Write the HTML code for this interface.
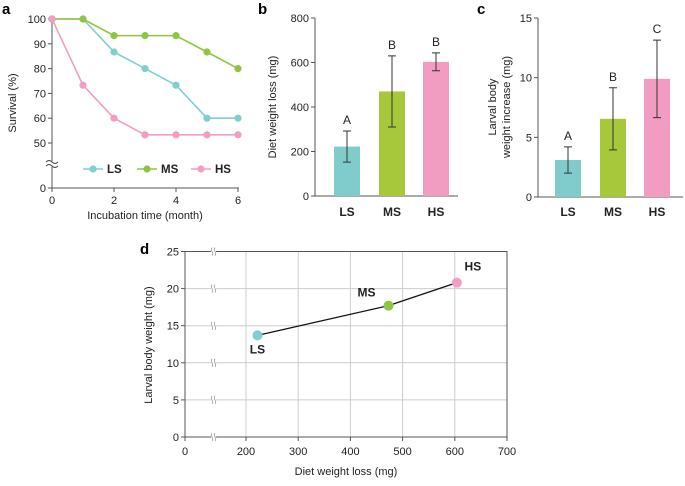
<!DOCTYPE html>
<html><head><meta charset="utf-8"><style>
body{margin:0;background:#fff;}
svg{font-family:"Liberation Sans",Arial,sans-serif;}
</style></head><body>
<svg id="s" width="685" height="481" viewBox="0 0 685 481" xmlns="http://www.w3.org/2000/svg">
<g id="root"></g>
</svg>
<script>
// Panel a data
const months=[0,1,2,3,4,5,6];
const survLS=[100,100,86.7,80,73.3,60,60];
const survMS=[100,100,93.3,93.3,93.3,86.7,80];
const survHS=[100,73.3,60,53.3,53.3,53.3,53.3];
const aYTicks=[50,60,70,80,90,100];
const aXTicks=[0,2,4,6];
// Panel b data
const groups=["LS","MS","HS"];
const dietLoss=[222,470,603];
const dietErr=[70,160,40];
const dietLetters=["A","B","B"];
const bTicks=[0,200,400,600,800];
// Panel c data
const larvalInc=[3.1,6.55,9.9];
const larvalErr=[1.1,2.6,3.25];
const larvalLetters=["A","B","C"];
const cTicks=[0,5,10,15];
// Panel d data
const dX=[222,473,604];
const dY=[13.7,17.7,20.8];
const dXTicks=[0,200,300,400,500,600,700];
const dYTicks=[0,5,10,15,20,25];

const lineCol={LS:"#7fcfcf",MS:"#8dc63f",HS:"#f29ec2"};
const barCol={LS:"#80cccc",MS:"#a6c83a",HS:"#f29cc2"};
const NS="http://www.w3.org/2000/svg";
const root=document.getElementById("root");
function el(tag,attrs,parent,text){const e=document.createElementNS(NS,tag);for(const k in attrs)e.setAttribute(k,attrs[k]);if(text!==undefined)e.textContent=text;(parent||root).appendChild(e);return e;}

// ---------- Panel a ----------
const ga=el("g",{});


const ax=v=>52+v*31;
const ay=v=>v===0?188:143-(v-50)*2.48;
let t=el("text",{x:2,y:14,"font-size":15,"font-weight":"bold"},ga,"a");

el("line",{x1:52,y1:18,x2:52,y2:161,stroke:"#555"},ga);
el("line",{x1:52,y1:167,x2:52,y2:189,stroke:"#555"},ga);
el("path",{d:"M46,162 q3,-3 6,0 t6,0 M46,166 q3,-3 6,0 t6,0",stroke:"#444",fill:"none","stroke-width":1},ga);
el("line",{x1:52,y1:188,x2:239,y2:188,stroke:"#555"},ga);
[...aYTicks,0].forEach(v=>{el("line",{x1:48,y1:ay(v),x2:52,y2:ay(v),stroke:"#555"},ga);
 const tt=el("text",{x:46,y:ay(v)+4,"font-size":11,"text-anchor":"end",fill:"#222"},ga,v);
 });
aXTicks.forEach(v=>{el("line",{x1:ax(v),y1:188,x2:ax(v),y2:192,stroke:"#555"},ga);
 const tt=el("text",{x:ax(v),y:204,"font-size":11,"text-anchor":"middle",fill:"#222"},ga,v);
 });
t=el("text",{x:145,y:219,"font-size":11,"text-anchor":"middle",fill:"#222"},ga,"Incubation time (month)");

t=el("text",{x:16,y:103,"font-size":11,"text-anchor":"middle",fill:"#222",transform:"rotate(-90 16 103)"},ga,"Survival (%)");

[["LS",survLS],["MS",survMS],["HS",survHS]].forEach(([n,arr])=>{
 const pts=months.map((m,i)=>ax(m)+","+ay(arr[i])).join(" ");
 const pl=el("polyline",{points:pts,fill:"none",stroke:lineCol[n],"stroke-width":1.6},ga);
 
 months.forEach((m,i)=>{const c=el("circle",{cx:ax(m),cy:ay(arr[i]),r:3.6,fill:lineCol[n]},ga);
  });
});
[["LS",83],["MS",137],["HS",191]].forEach(([n,x])=>{
 const lg=el("g",{},ga);
 
 el("line",{x1:x,y1:169,x2:x+20,y2:169,stroke:lineCol[n],"stroke-width":1.6},lg);
 el("circle",{cx:x+10,cy:169,r:3.6,fill:lineCol[n]},lg);
 el("text",{x:x+24,y:173,"font-size":11.5,"font-weight":"bold",fill:"#222"},lg,n);
});

// ---------- bar panels ----------
function barPanel(name,label,lx,x0,x1,y0,y1,max,ticks,vals,errs,letters,centers,titleLines){
 const g=el("g",{});
 
 const y=v=>y0-(v/max)*(y0-y1);
 let tt=el("text",{x:lx,y:14,"font-size":15,"font-weight":"bold"},g,label);
 
 el("line",{x1:x0,y1:y1,x2:x0,y2:y0,stroke:"#555"},g);
 el("line",{x1:x0,y1:y0,x2:x1,y2:y0,stroke:"#555"},g);
 ticks.forEach(v=>{el("line",{x1:x0-4,y1:y(v),x2:x0,y2:y(v),stroke:"#555"},g);
  const k=el("text",{x:x0-6,y:y(v)+4,"font-size":11,"text-anchor":"end",fill:"#222"},g,v);
  });
 groups.forEach((gr,i)=>{const c=centers[i];
  const r=el("rect",{x:c-13,y:y(vals[i]),width:26,height:y0-y(vals[i]),fill:barCol[gr]},g);
  
  const hi=y(vals[i]+errs[i]),lo=y(vals[i]-errs[i]);
  const eb=el("path",{d:`M${c},${hi}V${lo}M${c-4},${hi}H${c+4}M${c-4},${lo}H${c+4}`,stroke:"#333",fill:"none"},g);
  
  const lt=el("text",{x:c,y:hi-7,"font-size":12,"text-anchor":"middle",fill:"#222"},g,letters[i]);
  
  const xl=el("text",{x:c,y:216,"font-size":12,"font-weight":"bold","text-anchor":"middle",fill:"#222"},g,gr);
  
 });
 titleLines.forEach(([txt,xx])=>{const k=el("text",{x:xx,y:107,"font-size":11,"text-anchor":"middle",fill:"#222",transform:`rotate(-90 ${xx} 107)`},g,txt);
  });
}
barPanel("panel-b","b",258,315,458,196,18,800,bTicks,dietLoss,dietErr,dietLetters,[347,392,436],[["Diet weight loss (mg)",276]]);
barPanel("panel-c","c",477,538,683,197,18,15,cTicks,larvalInc,larvalErr,larvalLetters,[568,613,657],[["Larval body",496],["weight  increase (mg)",510]]);

// ---------- Panel d ----------
const gd=el("g",{});

const dx=v=>v<=200?185+v/200*61:246+(v-200)*0.522;
const dy=v=>437-v*7.42;
t=el("text",{x:140,y:254,"font-size":15,"font-weight":"bold"},gd,"d");

dXTicks.slice(1).forEach(v=>el("line",{x1:dx(v),y1:dy(25),x2:dx(v),y2:dy(0),stroke:"#ccc"},gd));
dYTicks.slice(1).forEach(v=>el("line",{x1:185,y1:dy(v),x2:dx(700),y2:dy(v),stroke:"#ccc"},gd));
el("rect",{x:185,y:dy(25),width:dx(700)-185,height:dy(0)-dy(25),fill:"none",stroke:"#555"},gd);
dYTicks.forEach(v=>{el("line",{x1:181,y1:dy(v),x2:185,y2:dy(v),stroke:"#555"},gd);
 el("rect",{x:211,y:dy(v)-2,width:5,height:4,fill:"#fff"},gd);
 el("path",{d:`M212,${dy(v)-4} q-1.5,2 0,4 t0,4 M215,${dy(v)-4} q-1.5,2 0,4 t0,4`,stroke:"#999",fill:"none","stroke-width":0.8},gd);
 const k=el("text",{x:179,y:dy(v)+4,"font-size":11,"text-anchor":"end",fill:"#222"},gd,v);
 });
dXTicks.forEach(v=>{el("line",{x1:dx(v),y1:dy(0),x2:dx(v),y2:dy(0)+4,stroke:"#555"},gd);
 const k=el("text",{x:dx(v),y:455,"font-size":11,"text-anchor":"middle",fill:"#222"},gd,v);
 });
t=el("text",{x:346,y:475,"font-size":11,"text-anchor":"middle",fill:"#222"},gd,"Diet weight loss (mg)");

t=el("text",{x:152,y:345,"font-size":11,"text-anchor":"middle",fill:"#222",transform:"rotate(-90 152 345)"},gd,"Larval body weight (mg)");

const pl=el("polyline",{points:dX.map((v,i)=>dx(v)+","+dy(dY[i])).join(" "),fill:"none",stroke:"#111","stroke-width":1.3},gd);

const lblOff=[[0,18],[-22,-9],[16,-12]];
groups.forEach((gr,i)=>{const c=el("circle",{cx:dx(dX[i]),cy:dy(dY[i]),r:5,fill:lineCol[gr]},gd);
 
 const k=el("text",{x:dx(dX[i])+lblOff[i][0],y:dy(dY[i])+lblOff[i][1],"font-size":12,"font-weight":"bold","text-anchor":"middle",fill:"#222"},gd,gr);
 });
</script>
</body></html>
